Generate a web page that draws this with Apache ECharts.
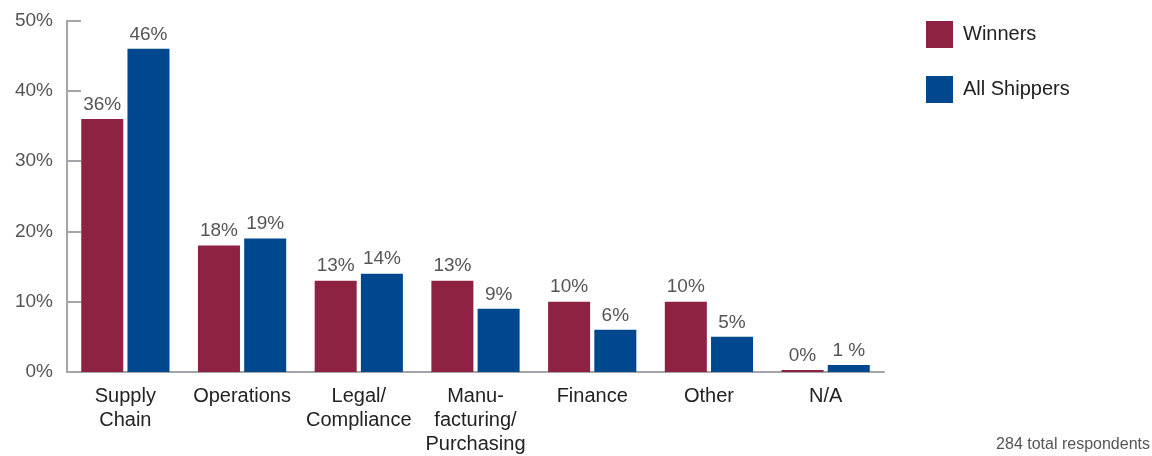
<!DOCTYPE html>
<html>
<head>
<meta charset="utf-8">
<script src="https://cdn.jsdelivr.net/npm/echarts@6/dist/echarts.min.js"></script>
<style>
  html, body { margin: 0; padding: 0; background: #fff; }
  #chart { width: 1152px; height: 456px; }
</style>
</head>
<body>
<div id="chart"></div>
<script>
// Share of respondents by department (%)
const categories = ['Supply\nChain', 'Operations', 'Legal/\nCompliance', 'Manu-\nfacturing/\nPurchasing', 'Finance', 'Other', 'N/A'];
const winners = [36, 18, 13, 13, 10, 10, 0];
const allShippers = [46, 19, 14, 9, 6, 5, 1];
const allShippersLabels = ['46%', '19%', '14%', '9%', '6%', '5%', '1 %'];
const yTicks = { min: 0, max: 50, interval: 10 };
const footnote = '284 total respondents';

const FONT = '"Liberation Sans", Arial, Helvetica, sans-serif';
const AXIS_GRAY = '#A3A5A8';
const LABEL_GRAY = '#555555';

const chart = echarts.init(document.getElementById('chart'), null, { renderer: 'canvas' });

chart.setOption({
  animation: false,
  backgroundColor: '#ffffff',
  textStyle: { fontFamily: FONT },
  grid: { left: 67, right: 268, top: 20.7, bottom: 81.5, containLabel: false },
  legend: {
    orient: 'vertical',
    left: 926,
    top: 21,
    padding: 0,
    itemWidth: 27,
    itemHeight: 27,
    itemGap: 28,
    icon: 'rect',
    textStyle: { fontFamily: FONT, fontSize: 20, color: '#222222', padding: [2, 0, 0, 5] },
    data: ['Winners', 'All Shippers']
  },
  graphic: [{
    type: 'text',
    right: 2,
    top: 437,
    style: { text: footnote, font: '16px ' + FONT, fill: LABEL_GRAY }
  }],
  xAxis: {
    type: 'category',
    data: categories,
    axisLine: { lineStyle: { color: AXIS_GRAY, width: 2 } },
    axisTick: { inside: true, length: 7, lineStyle: { color: AXIS_GRAY, width: 2 } },
    axisLabel: {
      interval: 0,
      margin: 12,
      fontFamily: FONT,
      fontSize: 20,
      lineHeight: 24,
      color: '#222222'
    }
  },
  yAxis: {
    type: 'value',
    min: yTicks.min,
    max: yTicks.max,
    interval: yTicks.interval,
    axisLine: { show: true, lineStyle: { color: AXIS_GRAY, width: 2 } },
    axisTick: { show: true, inside: true, length: 14, lineStyle: { color: AXIS_GRAY, width: 2 } },
    splitLine: { show: false },
    axisLabel: {
      formatter: '{value}%',
      margin: 14,
      fontFamily: FONT,
      fontSize: 19,
      color: LABEL_GRAY
    }
  },
  series: [
    {
      name: 'Winners',
      type: 'bar',
      data: winners,
      barWidth: '36%',
      barGap: '10%',
      barMinHeight: 2,
      itemStyle: { color: '#8E2243' },
      label: {
        show: true,
        position: 'top',
        distance: 5,
        formatter: p => p.value + '%',
        fontFamily: FONT,
        fontSize: 19,
        color: LABEL_GRAY
      }
    },
    {
      name: 'All Shippers',
      type: 'bar',
      data: allShippers,
      barWidth: '36%',
      barGap: '10%',
      itemStyle: { color: '#00488E' },
      label: {
        show: true,
        position: 'top',
        distance: 5,
        formatter: p => allShippersLabels[p.dataIndex],
        fontFamily: FONT,
        fontSize: 19,
        color: LABEL_GRAY
      }
    }
  ]
});
</script>
</body>
</html>
